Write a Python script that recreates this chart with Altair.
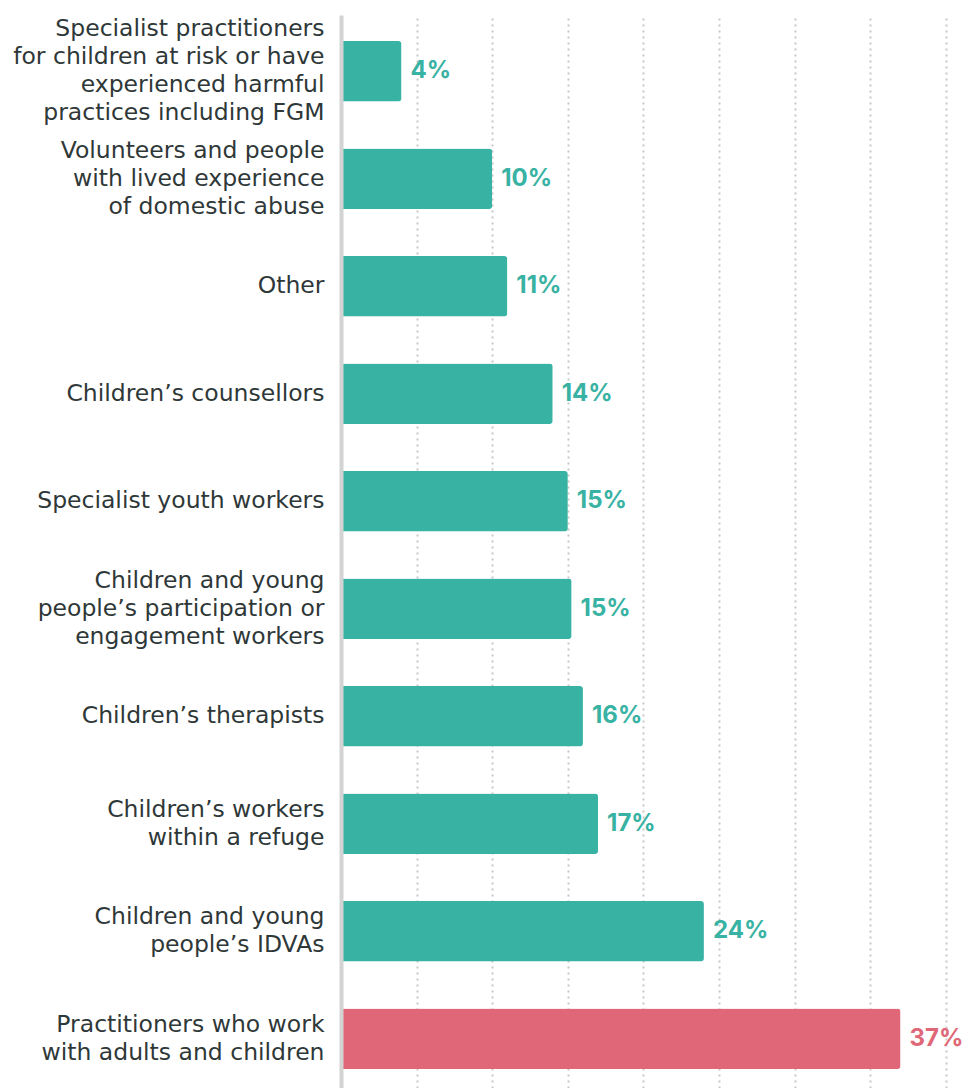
import altair as alt
import pandas as pd

categories = [
    "Specialist practitioners|for children at risk or have|experienced harmful|practices including FGM",
    "Volunteers and people|with lived experience|of domestic abuse",
    "Other",
    "Children\u2019s counsellors",
    "Specialist youth workers",
    "Children and young|people\u2019s participation or|engagement workers",
    "Children\u2019s therapists",
    "Children\u2019s workers|within a refuge",
    "Children and young|people\u2019s IDVAs",
    "Practitioners who work|with adults and children",
]
values = [4.0, 10.0, 11.0, 14.0, 15.0, 15.25, 16.0, 17.0, 24.0, 37.0]
value_labels = ["4%", "10%", "11%", "14%", "15%", "15%", "16%", "17%", "24%", "37%"]
groups = ["other"] * 9 + ["highlight"]

df = pd.DataFrame({"cat": categories, "value": values, "label": value_labels, "group": groups})

LABEL_FONT = "DejaVu Sans"
VALUE_FONT = "Inter"
TEAL = "#38B2A3"
PINK = "#E06777"
TEXT = "#2F3838"
LINE_H = 28

color_scale = alt.Scale(domain=["other", "highlight"], range=[TEAL, PINK])

nlines = "length(split(datum.label, '|'))"
label_offset = {
    "condition": [
        {"test": f"{nlines} == 4", "value": -1.5 * LINE_H},
        {"test": f"{nlines} == 3", "value": -1.0 * LINE_H},
        {"test": f"{nlines} == 2", "value": -0.5 * LINE_H},
    ],
    "value": 0,
}

y_enc = alt.Y(
    "cat:N",
    sort=categories,
    title=None,
    scale=alt.Scale(paddingInner=0.437, paddingOuter=0.209, align=0.579),
    axis=alt.Axis(
        labelExpr="split(datum.label, '|')",
        labelFont=LABEL_FONT,
        labelFontSize=23.5,
        labelColor=TEXT,
        labelLineHeight=LINE_H,
        labelLimit=400,
        labelPadding=17,
        labelOffset=label_offset,
        ticks=False,
        domainColor="#D3D3D3",
        domainWidth=4,
        grid=False,
        zindex=1,
    ),
)

x_enc = alt.X(
    "value:Q",
    title=None,
    scale=alt.Scale(domain=[0, 41.2], nice=False, zero=True),
    axis=alt.Axis(
        values=[5, 10, 15, 20, 25, 30, 35, 40],
        labels=False,
        ticks=False,
        domain=False,
        grid=True,
        gridColor="#C8C8C8",
        gridDash=[2, 4],
        gridWidth=2,
    ),
)

bars = alt.Chart(df).mark_bar(cornerRadiusEnd=3).encode(
    y=y_enc,
    x=x_enc,
    color=alt.Color("group:N", scale=color_scale, legend=None),
)

text = alt.Chart(df).mark_text(
    align="left", baseline="middle", dx=9, font=VALUE_FONT, fontSize=24, fontWeight="bold"
).encode(
    y=alt.Y("cat:N", sort=categories),
    x=alt.X("value:Q"),
    text="label:N",
    color=alt.Color("group:N", scale=color_scale, legend=None),
)

chart = (
    alt.layer(bars, text)
    .properties(
        width=623,
        height=1073,
        background="white",
        autosize=alt.AutoSizeParams(type="none"),
        padding={"left": 341, "top": 15, "right": 0, "bottom": 0},
    )
    .configure_view(strokeWidth=0, stroke=None)
)

chart.save("out.html", embed_options={"renderer": "svg", "actions": False})
